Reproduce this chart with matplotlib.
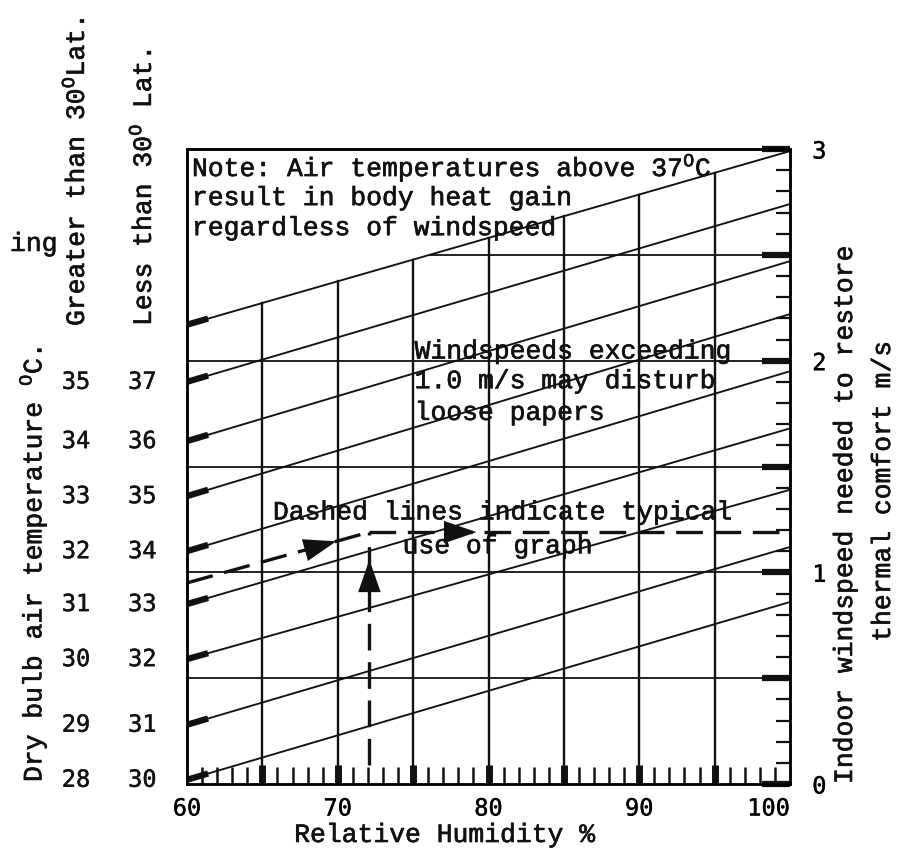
import numpy as np
import matplotlib.pyplot as plt
import matplotlib.patheffects as pe
from matplotlib.ticker import MultipleLocator, FixedLocator, FixedFormatter

plt.rcParams['mathtext.fontset'] = 'custom'
plt.rcParams['mathtext.rm'] = 'Liberation Mono'
plt.rcParams['mathtext.it'] = 'Liberation Mono'

# --- data ---
rh_min, rh_max = 60, 100
ws_min, ws_max = 0, 3
# isotherms, bottom to top: windspeed where they meet RH=60 and RH=100
temp_lt30 = [30, 31, 32, 33, 34, 35, 36, 37]
temp_gt30 = [28, 29, 30, 31, 32, 33, 34, 35]
iso_ws_60 = [0.02, 0.28, 0.59, 0.85, 1.10, 1.36, 1.62, 1.90, 2.17]
iso_ws_100 = [0.86, 1.12, 1.39, 1.68, 1.95, 2.22, 2.47, 2.74, 2.99]
rh_grid = [65, 70, 75, 80, 85, 90, 95]
ws_grid = [0.5, 1.0, 1.5, 2.0, 2.5]
rh_ticks = [60, 70, 80, 90, 100]
ws_ticks = [0, 0.5, 1, 1.5, 2, 2.5, 3]
ws_ticklabels = ['0', '', '1', '', '2', '', '3']
# worked example (dashed)
ex_rh = 72.1
ex_ws_60 = 0.95
ex_ws = 1.19
ex_ws_low = 0.09

W, H = 903, 854
def px(x, y):
    return x / W, 1 - y / H

mono = 'Liberation Mono'
nums = 'DejaVu Sans Mono'
ink = '#111111'
heavy = [pe.withStroke(linewidth=0.45, foreground=ink)]
num_fx = [pe.withStroke(linewidth=0.3, foreground=ink)]

fig = plt.figure(figsize=(W / 100, H / 100), dpi=100)
ax = fig.add_axes([187 / W, 1 - 785 / H, 603 / W, 635 / H])
ax.set_xlim(rh_min, rh_max)
ax.set_ylim(ws_min, ws_max)

top0, top1 = iso_ws_60[-1], iso_ws_100[-1]
def top_line(r):
    return top0 + (top1 - top0) * (r - rh_min) / (rh_max - rh_min)

# isotherms with heavy start marks
for w0, w1 in zip(iso_ws_60, iso_ws_100):
    ax.plot([rh_min, rh_max], [w0, w1], color=ink, lw=1.35)
    s = (w1 - w0) / (rh_max - rh_min)
    ax.plot([rh_min, rh_min + 1.4], [w0, w0 + 1.4 * s], color=ink, lw=4.5,
            solid_capstyle='butt')

# vertical grid up to top isotherm, heavy marks at bottom
for r in rh_grid:
    ax.plot([r, r], [ws_min, top_line(r)], color=ink, lw=1.7)
    ax.plot([r, r], [ws_min, 0.09], color=ink, lw=5, solid_capstyle='butt')

# horizontal grid below top isotherm
for w in ws_grid:
    r0 = rh_min + (w - top0) / (top1 - top0) * (rh_max - rh_min)
    ax.plot([max(rh_min, r0), rh_max], [w, w], color=ink, lw=1.3)

# worked example
dash = (0, (8, 3.5))
ax.plot([rh_min, ex_rh], [ex_ws_60, ex_ws], color=ink, lw=2.4, ls=dash)
ax.plot([ex_rh, rh_max], [ex_ws, ex_ws], color=ink, lw=2.4, ls=dash)
ax.plot([ex_rh, ex_rh], [ex_ws_low, ex_ws], color=ink, lw=2.4, ls=dash)
head = dict(arrowstyle='-|>,head_length=1.3,head_width=0.45', color=ink,
            lw=0, shrinkA=0, shrinkB=0, mutation_scale=18)
ax.annotate('', xy=(ex_rh, 1.06), xytext=(ex_rh, 0.95), arrowprops=head)
sl = (ex_ws - ex_ws_60) / (ex_rh - rh_min)
ax.annotate('', xy=(69.9, ex_ws_60 + 9.9 * sl), xytext=(68.3, ex_ws_60 + 8.3 * sl),
            arrowprops=head)
ax.annotate('', xy=(79.2, ex_ws), xytext=(77.6, ex_ws), arrowprops=head)

# axes styling
for sp in ax.spines.values():
    sp.set_linewidth(1.8)
    sp.set_color(ink)
ax.xaxis.set_major_locator(FixedLocator(rh_ticks))
ax.xaxis.set_minor_locator(MultipleLocator(1))
ax.tick_params(axis='x', which='major', length=0, pad=9, labelsize=17)
ax.tick_params(axis='x', which='minor', direction='in', length=12, width=1.8, color=ink)
for lab in ax.get_xticklabels():
    lab.set_fontfamily(nums)
    lab.set_path_effects(num_fx)
ax.get_xticklabels()[-1].set_horizontalalignment('right')

ax2 = ax.twinx()
ax2.set_ylim(ws_min, ws_max)
ax2.yaxis.set_major_locator(FixedLocator(ws_ticks))
ax2.yaxis.set_major_formatter(FixedFormatter(ws_ticklabels))
ax2.yaxis.set_minor_locator(MultipleLocator(0.1))
ax2.tick_params(axis='y', which='major', direction='in', length=20, width=4.5,
                pad=16, labelsize=17, color=ink)
ax2.tick_params(axis='y', which='minor', direction='in', length=10, width=1.6, color=ink)
for lab in ax2.get_yticklabels():
    lab.set_fontfamily(nums)
    lab.set_path_effects(num_fx)
for sp in ax2.spines.values():
    sp.set_linewidth(1.8)
# twinx turns the left ticks of ax back on
ax.tick_params(axis='y', which='both', left=False, right=False,
               labelleft=False, labelright=False)

tkw = dict(fontfamily=mono, fontsize=19, color=ink, path_effects=heavy)
# notes inside the plot
ax.text(60.33, 2.872, 'Note: Air temperatures above 37$^{\\mathrm{O}}$C', **tkw)
ax.text(60.33, 2.735, 'result in body heat gain', **tkw)
ax.text(60.33, 2.593, 'regardless of windspeed', **tkw)
ax.text(75.1, 2.01, 'Windspeeds exceeding', **tkw)
ax.text(75.1, 1.87, '1.0 m/s may disturb', **tkw)
ax.text(75.1, 1.72, 'loose papers', **tkw)
ax.text(65.7, 1.25, 'Dashed lines indicate typical', **tkw)
ax.text(74.3, 1.09, 'use of graph', **tkw)

# left temperature scales
ytr = ax.get_yaxis_transform()
nkw = dict(fontfamily=nums, fontsize=17, color=ink, clip_on=False, path_effects=num_fx)
for tg, tl, w in zip(temp_gt30, temp_lt30, iso_ws_60):
    ax.text(-0.184, w, str(tg), transform=ytr, ha='center', va='center', **nkw)
    ax.text(-0.074, w, str(tl), transform=ytr, ha='center', va='center', **nkw)

fig.text(*px(76, 327), 'Greater than 30$^{\\mathrm{O}}$Lat.', rotation=90,
         ha='center', va='bottom', **tkw)
fig.text(*px(143, 327), 'Less than 30$^{\\mathrm{O}}$ Lat.', rotation=90,
         ha='center', va='bottom', **tkw)
fig.text(*px(33, 783), 'Dry bulb air temperature $^{\\mathrm{O}}$C.', rotation=90,
         ha='center', va='bottom', **tkw)
fig.text(*px(10, 252), 'ing', ha='left', va='baseline', **tkw)

# axis titles
fig.text(*px(445, 836), 'Relative Humidity %', ha='center', va='center', **tkw)
fig.text(*px(845, 785), 'Indoor windspeed needed to restore', rotation=90,
         ha='center', va='bottom', **tkw)
fig.text(*px(883, 492), 'thermal comfort m/s', rotation=90,
         ha='center', va='center', **tkw)

fig.savefig('out.png', dpi=100, facecolor='white')
